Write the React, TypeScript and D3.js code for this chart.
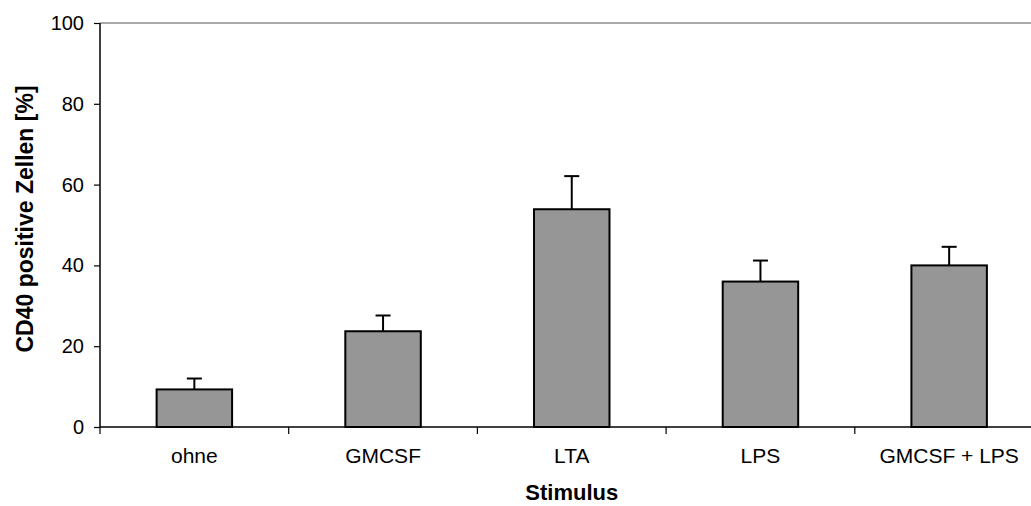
import React, { useEffect, useRef } from 'react'
import * as d3 from 'd3'

const categories = ['ohne', 'GMCSF', 'LTA', 'LPS', 'GMCSF + LPS']
const means = [9.3, 23.7, 53.9, 36.0, 40.0]
const errors = [2.7, 3.9, 8.2, 5.2, 4.6]
const yTicks = [0, 20, 40, 60, 80, 100]

const W = 1031, H = 506
const margin = { top: 23, left: 100, bottom: 79 }
const plotRight = 1043.5 // excel plot area runs a bit past the picture edge
const font = "'Liberation Sans', Arial, sans-serif"

export default function App() {
    const ref = useRef<SVGSVGElement>(null)

    useEffect(() => {
        document.body.style.margin = '0'
        const svg = d3.select(ref.current)
        svg.selectAll('*').remove()

        const x = d3.scaleBand<string>()
            .domain(categories)
            .range([margin.left, plotRight])
            .paddingInner(0).paddingOuter(0)

        const y = d3.scaleLinear()
            .domain([0, 100])
            .range([H - margin.bottom, margin.top])

        const barW = x.bandwidth() * 0.4
        const data = categories.map((c, i) => ({ c, v: means[i], e: errors[i] }))

        // top border of the plot area
        svg.append('line')
            .attr('x1', margin.left).attr('x2', plotRight)
            .attr('y1', y(100)).attr('y2', y(100))
            .attr('stroke', '#8c8c8c').attr('stroke-width', 1.6)

        // bars
        svg.append('g')
            .selectAll('rect')
            .data(data)
            .join('rect')
            .attr('x', d => x(d.c)! + (x.bandwidth() - barW) / 2)
            .attr('y', d => y(d.v))
            .attr('width', barW)
            .attr('height', d => y(0) - y(d.v))
            .attr('fill', '#969696')
            .attr('stroke', '#000')
            .attr('stroke-width', 2)

        // error bars (upper only)
        const err = svg.append('g')
            .attr('stroke', '#000')
            .attr('stroke-width', 2)
        err.selectAll('line.stem')
            .data(data)
            .join('line')
            .attr('class', 'stem')
            .attr('x1', d => x(d.c)! + x.bandwidth() / 2)
            .attr('x2', d => x(d.c)! + x.bandwidth() / 2)
            .attr('y1', d => y(d.v))
            .attr('y2', d => y(d.v + d.e))
        err.selectAll('line.cap')
            .data(data)
            .join('line')
            .attr('class', 'cap')
            .attr('x1', d => x(d.c)! + x.bandwidth() / 2 - 7.5)
            .attr('x2', d => x(d.c)! + x.bandwidth() / 2 + 7.5)
            .attr('y1', d => y(d.v + d.e))
            .attr('y2', d => y(d.v + d.e))

        // y axis
        const yAxis = svg.append('g')
            .attr('transform', `translate(${margin.left},0)`)
            .call(d3.axisLeft(y).tickValues(yTicks).tickSize(6).tickPadding(10).tickFormat(d3.format('d')))
        yAxis.select('.domain').attr('stroke', '#000').attr('stroke-width', 1.5)
            .attr('d', `M0,${y(0)}V${y(100)}`)
        yAxis.selectAll('.tick line').attr('stroke', '#000').attr('stroke-width', 1.2)
        yAxis.selectAll('.tick text')
            .style('font-family', font).style('font-size', '20px').attr('fill', '#000')

        // x axis
        const bounds = categories.map(c => x(c)!).concat([plotRight])
        svg.append('line')
            .attr('x1', margin.left).attr('x2', plotRight)
            .attr('y1', y(0)).attr('y2', y(0))
            .attr('stroke', '#000').attr('stroke-width', 1.5)
        svg.append('g')
            .selectAll('line')
            .data(bounds)
            .join('line')
            .attr('x1', d => d).attr('x2', d => d)
            .attr('y1', y(0)).attr('y2', y(0) + 7)
            .attr('stroke', '#000').attr('stroke-width', 1.2)
        svg.append('g')
            .selectAll('text')
            .data(categories)
            .join('text')
            .attr('x', d => x(d)! + x.bandwidth() / 2)
            .attr('y', 463)
            .attr('text-anchor', 'middle')
            .style('font-family', font).style('font-size', '21px')
            .text(d => d)

        // axis titles
        svg.append('text')
            .attr('x', (margin.left + plotRight) / 2).attr('y', 500)
            .attr('text-anchor', 'middle')
            .style('font-family', font).style('font-size', '22px').style('font-weight', 'bold')
            .text('Stimulus')

        svg.append('text')
            .attr('transform', `translate(33,${(y(0) + y(100)) / 2 - 6}) rotate(-90)`)
            .attr('text-anchor', 'middle')
            .style('font-family', font).style('font-size', '23px').style('font-weight', 'bold')
            .text('CD40 positive Zellen [%]')
    }, [])

    return <svg ref={ref} width={W} height={H} style={{ display: 'block', background: '#fff' }} />
}
